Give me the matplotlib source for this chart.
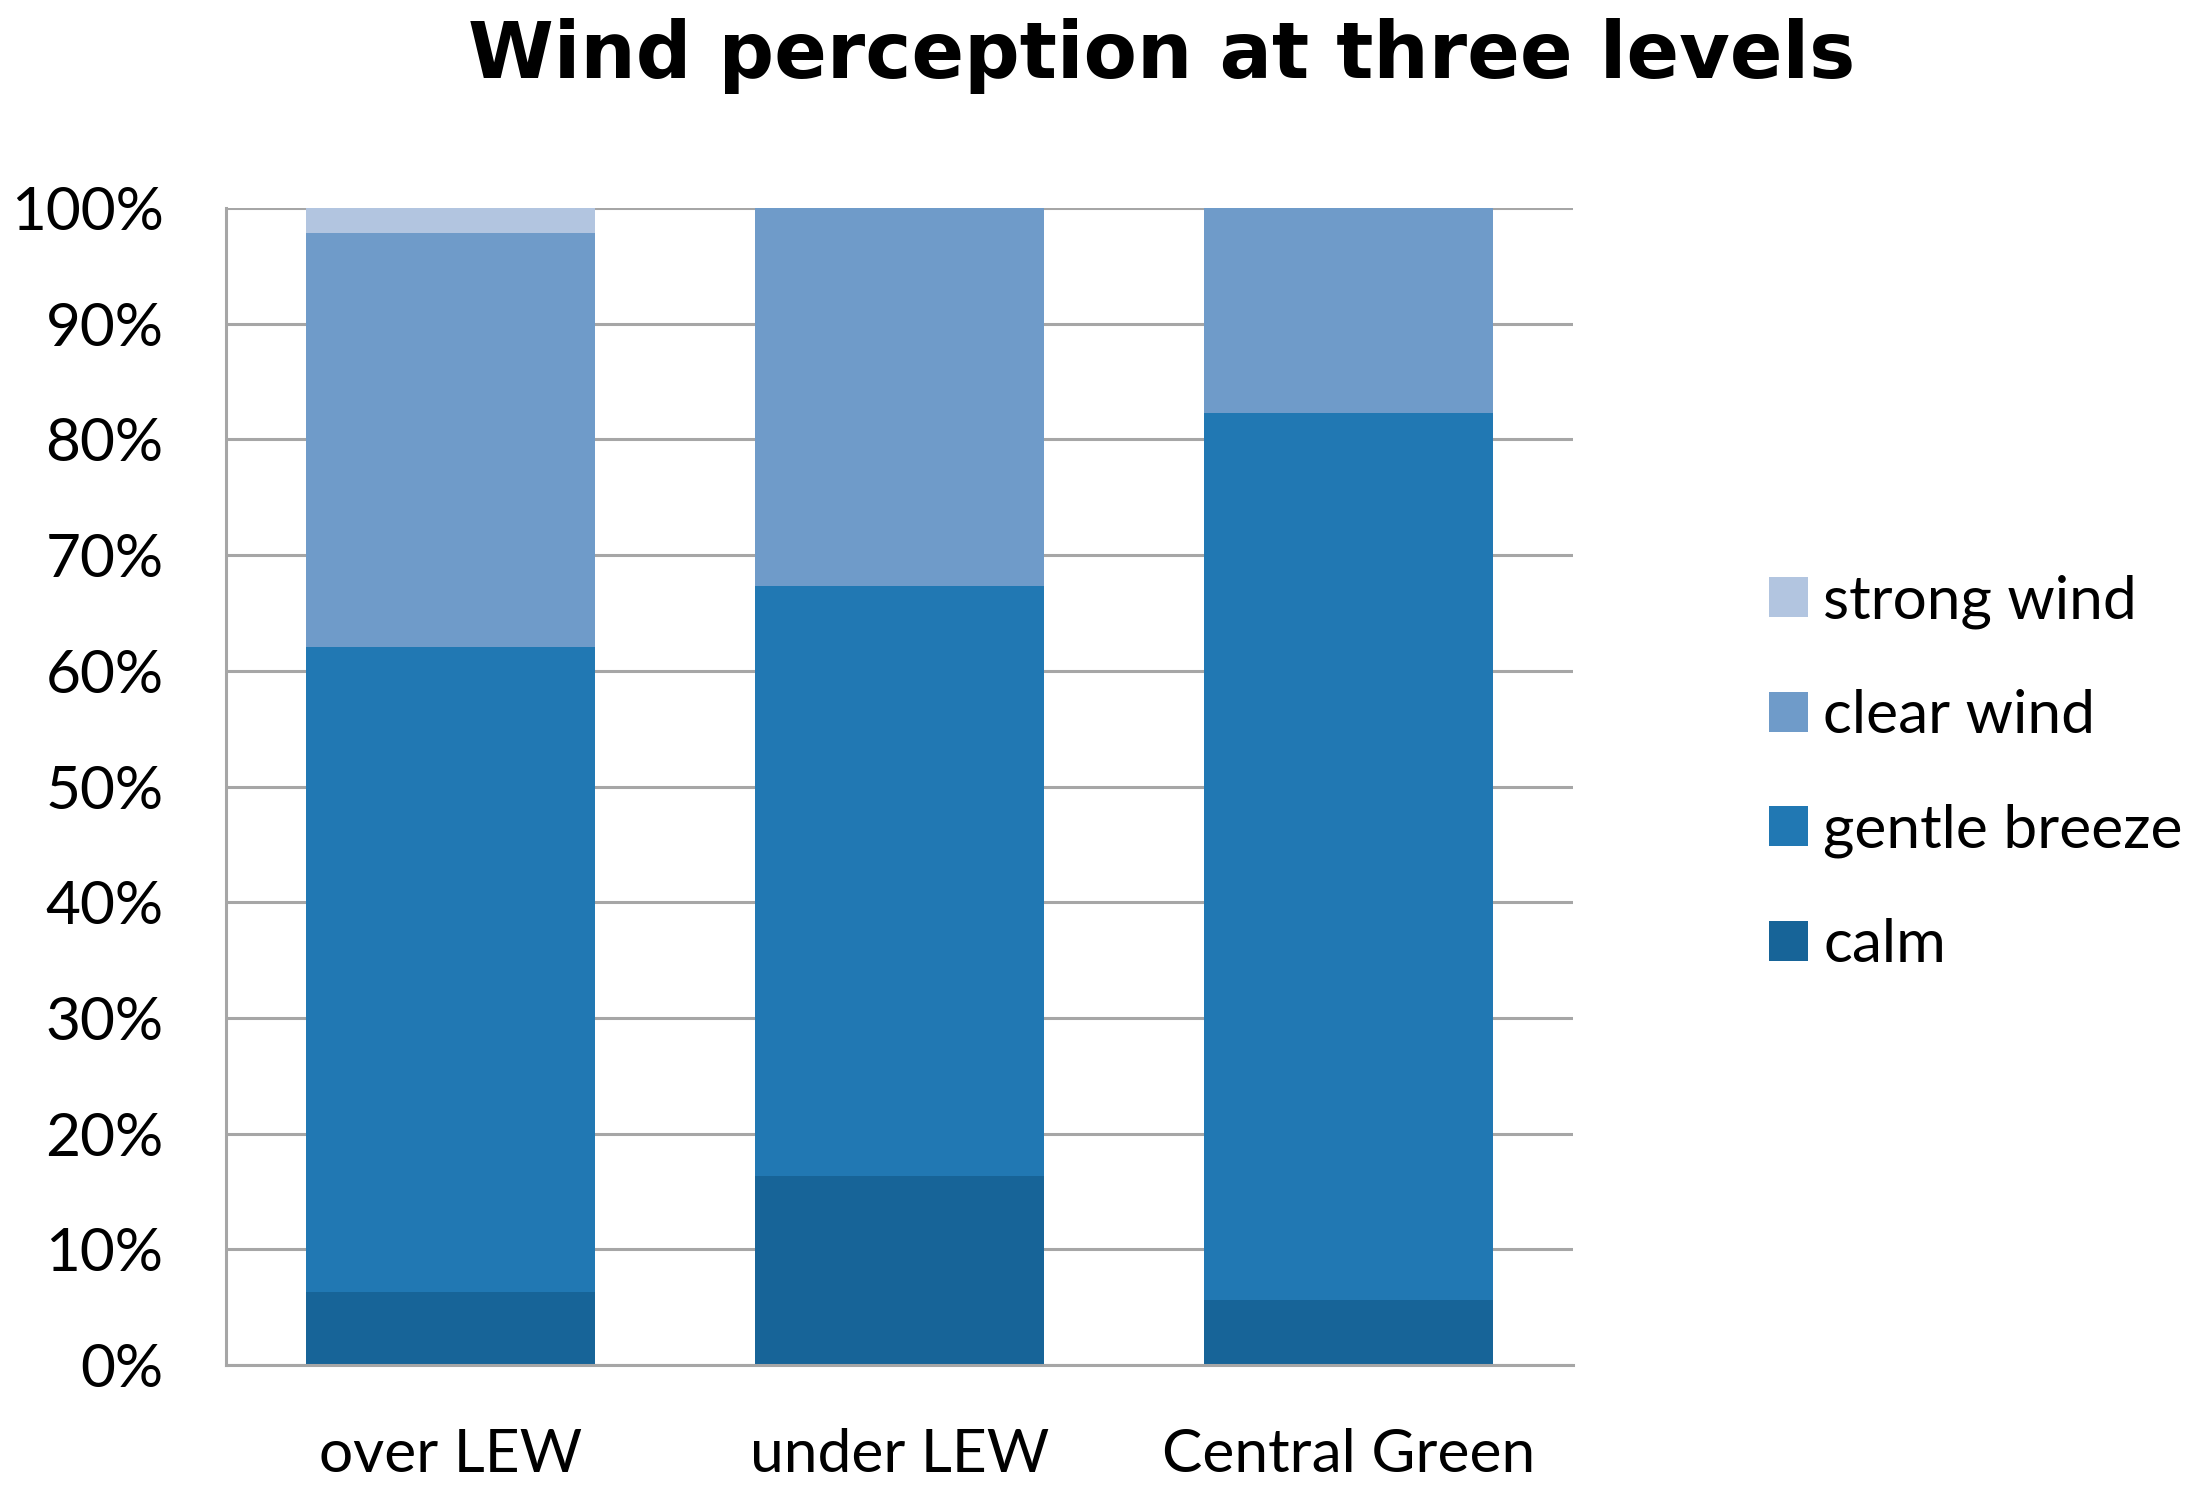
import numpy as np
import matplotlib
matplotlib.use("Agg")
import matplotlib.pyplot as plt
from matplotlib.ticker import FuncFormatter

# data (percent of answers)
sites = ["over LEW", "under LEW", "Central Green"]
classes = ["calm", "gentle breeze", "clear wind", "strong wind"]
calm = [6.3, 16.3, 5.6]
gentle_breeze = [55.8, 51.0, 76.7]
clear_wind = [35.7, 32.7, 17.7]
strong_wind = [2.2, 0.0, 0.0]
yticks = list(range(0, 101, 10))

colors = ["#176498", "#2178b3", "#6f9bc9", "#b2c5e0"]

fig = plt.figure(figsize=(21.88, 14.87), dpi=100)
ax = fig.add_axes([0.1033, 0.0820, 0.6156, 0.7781])

x = np.arange(len(sites))
bottom = np.zeros(len(sites))
for vals, name, col in zip([calm, gentle_breeze, clear_wind, strong_wind], classes, colors):
    ax.bar(x, vals, width=0.644, bottom=bottom, color=col, label=name, zorder=2)
    bottom += np.array(vals)

ax.set_xlim(-0.5, 2.5)
ax.set_ylim(0, 100)
ax.set_yticks(yticks)
ax.yaxis.set_major_formatter(FuncFormatter(lambda v, p: f"{v:.0f}%"))
ax.set_xticks(x)
ax.set_xticklabels(sites)

ax.yaxis.grid(True, color="#a6a6a6", linewidth=2.2, zorder=1)
ax.set_axisbelow(True)
for s in ["top", "right"]:
    ax.spines[s].set_visible(False)
for s in ["left", "bottom"]:
    ax.spines[s].set_color("#a6a6a6")
    ax.spines[s].set_linewidth(2.2)

fs = 43.5
ax.tick_params(axis="both", length=0)
ax.tick_params(axis="x", pad=45)
ax.tick_params(axis="y", pad=45)
for lab in ax.get_xticklabels() + ax.get_yticklabels():
    lab.set_family("Lato")
    lab.set_fontsize(fs)

fig.suptitle("Wind perception at three levels", x=0.531, y=0.988, va="top",
             fontsize=56, fontweight="bold", family="DejaVu Sans")

handles, labels = ax.get_legend_handles_labels()
leg = fig.legend(handles[::-1], labels[::-1], loc="center left",
                 bbox_to_anchor=(0.8085, 0.480), frameon=False,
                 prop={"family": "Lato", "size": fs},
                 handlelength=0.64, handleheight=0.64, handletextpad=0.26,
                 labelspacing=1.0, borderpad=0, borderaxespad=0)

fig.savefig("out.png", dpi=100, facecolor="white")
